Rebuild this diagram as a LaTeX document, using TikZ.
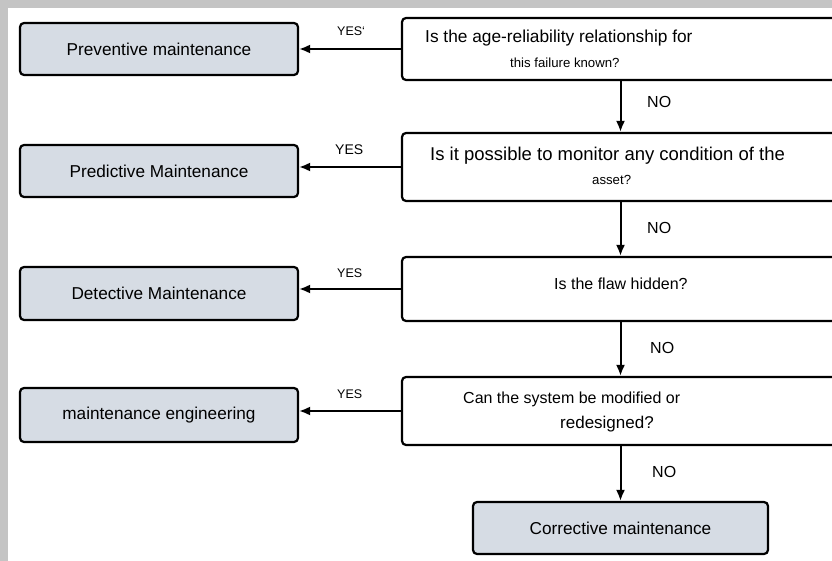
\documentclass[tikz,border=0pt]{standalone}
\usepackage{fontspec}
\setmainfont{Liberation Sans}
\usetikzlibrary{arrows.meta}
\definecolor{boxgray}{HTML}{D6DCE4}
\definecolor{framegray}{HTML}{C4C4C4}
\begin{document}
\begin{tikzpicture}[x=1pt,y=-1pt]
        \tikzstyle{answer}=[rectangle,rounded corners=4pt,line width=2.2pt,draw=black,fill=boxgray,minimum width=278pt,font=\fontsize{17.2}{19}\selectfont]
        \tikzstyle{question}=[rectangle,rounded corners=4pt,line width=2.2pt,draw=black,fill=white,minimum width=448pt]
        \tikzstyle{qtext}=[anchor=west,inner sep=0pt]
        \tikzstyle{small}=[font=\fontsize{13.2}{15}\selectfont]
        \tikzstyle{tag}=[font=\fontsize{12.5}{14}\selectfont,inner sep=0pt]
        \tikzstyle{edge}=[draw,line width=2pt,-{Latex[length=11pt,width=9pt]}]
        \useasboundingbox (0,0) rectangle (832,561);
        \clip (0,0) rectangle (832,561);
        % frame
        \fill[framegray] (0,0) rectangle (832,561);
        \fill[white] (8,8) rectangle (840,570);
       \begin{scope}
         % answers
         \node [answer,minimum height=52pt] (a1) at (159,49) {Preventive maintenance};
         \node [answer,minimum height=52pt] (a2) at (159,171) {Predictive Maintenance};
         \node [answer,minimum height=53pt] (a3) at (159,293.5) {Detective Maintenance};
         \node [answer,minimum height=54pt] (a4) at (159,415) {maintenance engineering};
         \node [answer,minimum width=295pt,minimum height=52pt] (c1) at (620.5,528) {Corrective maintenance};
         % questions
         \node [question,minimum height=62pt] (q1) at (626,49) {};
         \node [question,minimum height=68pt] (q2) at (626,167) {};
         \node [question,minimum height=64pt] (q3) at (626,289) {};
         \node [question,minimum height=68pt] (q4) at (626,411) {};
         \node [qtext,font=\fontsize{17.3}{19}\selectfont] (t1a) at (425,38) {Is the age-reliability relationship for};
         \node [qtext,small] (t1b) at (510,63) {this failure known?};
         \node [qtext,font=\fontsize{18.5}{20}\selectfont] (t2a) at (430,156) {Is it possible to monitor any condition of the};
         \node [qtext,small] (t2b) at (592,180) {asset?};
         \node [qtext,font=\fontsize{16}{18}\selectfont] (t3a) at (554,284) {Is the flaw hidden?};
         \node [qtext,font=\fontsize{16}{18}\selectfont] (t4a) at (463,399) {Can the system be modified or};
         \node [qtext,font=\fontsize{17}{19}\selectfont] (t4b) at (560,424) {redesigned?};
         % yes branches
         \path[edge] (q1.west) -- (q1.west -| a1.east);
         \path[edge] (q2.west) -- (q2.west -| a2.east);
         \path[edge] (q3.west) -- (q3.west -| a3.east);
         \path[edge] (q4.west) -- (q4.west -| a4.east);
         \node [tag,anchor=west] (y1) at (337,31) {YES`};
         \node [tag,anchor=west,font=\fontsize{14}{16}\selectfont] (y2) at (335,150) {YES};
         \node [tag,anchor=west] (y3) at (337,273) {YES};
         \node [tag,anchor=west] (y4) at (337,394) {YES};
         % no branches
         \path[edge] (q1.south -| c1) -- (q2.north -| c1);
         \path[edge] (q2.south -| c1) -- (q3.north -| c1);
         \path[edge] (q3.south -| c1) -- (q4.north -| c1);
         \path[edge] (q4.south -| c1) -- (c1.north);
         \node [tag,anchor=west,font=\fontsize{16}{18}\selectfont] (n1) at (647,102) {NO};
         \node [tag,anchor=west,font=\fontsize{16}{18}\selectfont] (n2) at (647,228) {NO};
         \node [tag,anchor=west,font=\fontsize{16}{18}\selectfont] (n3) at (650,348) {NO};
         \node [tag,anchor=west,font=\fontsize{16}{18}\selectfont] (n4) at (652,472) {NO};
        \end{scope}
      \end{tikzpicture}
\end{document}
